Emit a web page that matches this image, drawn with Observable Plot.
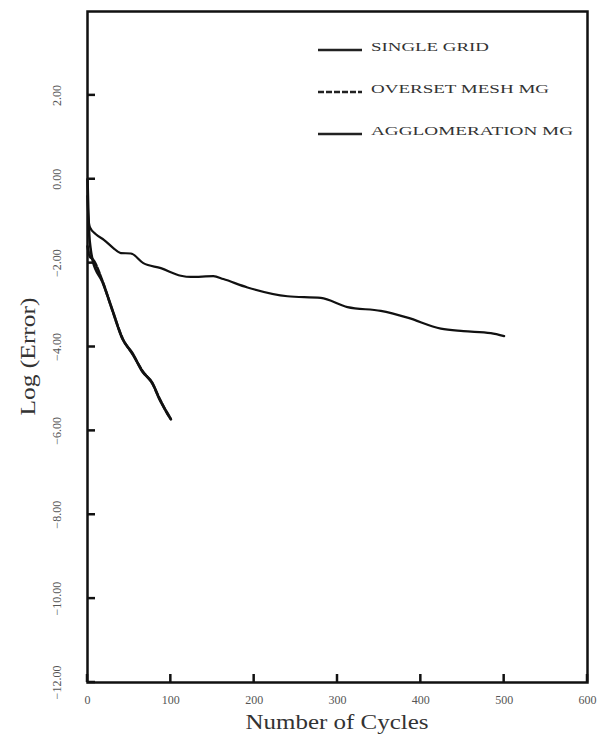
<!DOCTYPE html>
<html>
<head>
<meta charset="utf-8">
<script src="https://cdn.jsdelivr.net/npm/d3@7"></script>
<script src="https://cdn.jsdelivr.net/npm/@observablehq/plot@0.6"></script>
<style>
  html, body { margin: 0; padding: 0; background: #fff; }
  #chart { width: 600px; height: 739px; }
</style>
</head>
<body>
<div id="chart"></div>
<script>
// Series names
const seriesNames = ["SINGLE GRID", "OVERSET MESH MG", "AGGLOMERATION MG"];

// SINGLE GRID
const singleX = [0, 1, 3, 10, 20, 31, 40, 52, 67, 88, 112, 124, 151, 163, 192, 240, 280, 312, 352, 384, 424, 451, 484, 500];
const singleY = [-0.4, -0.9, -1.15, -1.31, -1.45, -1.64, -1.76, -1.77, -2.0, -2.12, -2.3, -2.33, -2.31, -2.38, -2.58, -2.79, -2.83, -3.05, -3.14, -3.3, -3.56, -3.62, -3.67, -3.74];

// OVERSET MESH MG
const oversetX = [0, 3, 6, 18, 30, 42, 54, 66, 78, 86, 96, 100];
const oversetY = [-1.6, -1.85, -1.9, -2.43, -3.14, -3.79, -4.17, -4.57, -4.88, -5.21, -5.6, -5.72];

// AGGLOMERATION MG
const agglomX = [0, 1, 2, 4, 6, 18, 30, 42, 54, 66, 78, 86, 96, 100];
const agglomY = [0.0, -0.8, -1.3, -1.7, -1.92, -2.45, -3.12, -3.81, -4.15, -4.59, -4.86, -5.23, -5.58, -5.72];

// Axis ticks
const xTicks = [0, 100, 200, 300, 400, 500, 600];
const yTicks = [-12, -10, -8, -6, -4, -2, 0, 2];

const rows = [
  ...singleX.map((x, i) => ({series: seriesNames[0], x, y: singleY[i]})),
  ...oversetX.map((x, i) => ({series: seriesNames[1], x, y: oversetY[i]})),
  ...agglomX.map((x, i) => ({series: seriesNames[2], x, y: agglomY[i]}))
];

const chart = Plot.plot({
  width: 600,
  height: 739,
  marginLeft: 87,
  marginRight: 13,
  marginTop: 11,
  marginBottom: 57,
  style: {fontFamily: "Liberation Serif, Times New Roman, serif", background: "#fff", color: "#222"},
  x: {domain: [0, 600]},
  y: {domain: [-12, 4]},
  marks: [
    Plot.axisX({ticks: xTicks, tickSize: 0, tickFormat: d => String(d), fontSize: 12, tickPadding: 13, fill: "#555", label: null}),
    Plot.axisY({ticks: yTicks, tickSize: 0, tickFormat: d3.format(".2f"), fontSize: 12, tickRotate: -90, tickPadding: 27, textAnchor: "middle", fill: "#555", label: null}),
    Plot.line(rows.filter(d => d.series === seriesNames[0]), {x: "x", y: "y", stroke: "#111", strokeWidth: 2.2, curve: "monotone-x"}),
    Plot.line(rows.filter(d => d.series === seriesNames[1]), {x: "x", y: "y", stroke: "#111", strokeWidth: 2.6, strokeDasharray: "6,2", curve: "monotone-x"}),
    Plot.line(rows.filter(d => d.series === seriesNames[2]), {x: "x", y: "y", stroke: "#111", strokeWidth: 2.6, curve: "monotone-x"}),
    Plot.frame({stroke: "#111", strokeWidth: 2.5})
  ]
});

document.getElementById("chart").appendChild(chart);

const svg = d3.select(chart);
const sx = chart.scale("x"), sy = chart.scale("y");
const x0 = sx.apply(0), y0 = sy.apply(-12);

// Inward tick marks
const tg = svg.append("g").attr("stroke", "#111").attr("stroke-width", 2.5);
yTicks.forEach(v => {
  tg.append("line").attr("x1", x0).attr("x2", x0 + 8).attr("y1", sy.apply(v)).attr("y2", sy.apply(v));
});
xTicks.forEach(v => {
  tg.append("line").attr("x1", sx.apply(v)).attr("x2", sx.apply(v)).attr("y1", y0).attr("y2", y0 - 8);
});

// Axis titles
svg.append("text")
  .attr("x", (sx.apply(0) + sx.apply(600)) / 2).attr("y", 729)
  .attr("text-anchor", "middle").attr("font-size", 20).attr("fill", "#333")
  .attr("textLength", 183).attr("lengthAdjust", "spacingAndGlyphs")
  .text("Number of Cycles");
svg.append("text")
  .attr("transform", `translate(35,${(sy.apply(4) + sy.apply(-12)) / 2 + 10}) rotate(-90)`)
  .attr("text-anchor", "middle").attr("font-size", 20).attr("fill", "#333")
  .attr("textLength", 118).attr("lengthAdjust", "spacingAndGlyphs")
  .text("Log (Error)");

// Legend inside the plot, top right
const legendYs = [50, 92, 134];
const legendWidths = [118, 178, 202];
const dashes = [null, "6,2", null];
const legend = svg.append("g").attr("class", "legend");
seriesNames.forEach((name, i) => {
  legend.append("line")
    .attr("x1", 318).attr("x2", 362)
    .attr("y1", legendYs[i]).attr("y2", legendYs[i])
    .attr("stroke", "#222").attr("stroke-width", 2.4)
    .attr("stroke-dasharray", dashes[i]);
  legend.append("text")
    .attr("x", 371).attr("y", legendYs[i])
    .attr("dy", "0.1em")
    .attr("text-anchor", "start")
    .attr("font-size", 13)
    .attr("fill", "#333")
    .attr("textLength", legendWidths[i]).attr("lengthAdjust", "spacingAndGlyphs")
    .text(name);
});
</script>
</body>
</html>
